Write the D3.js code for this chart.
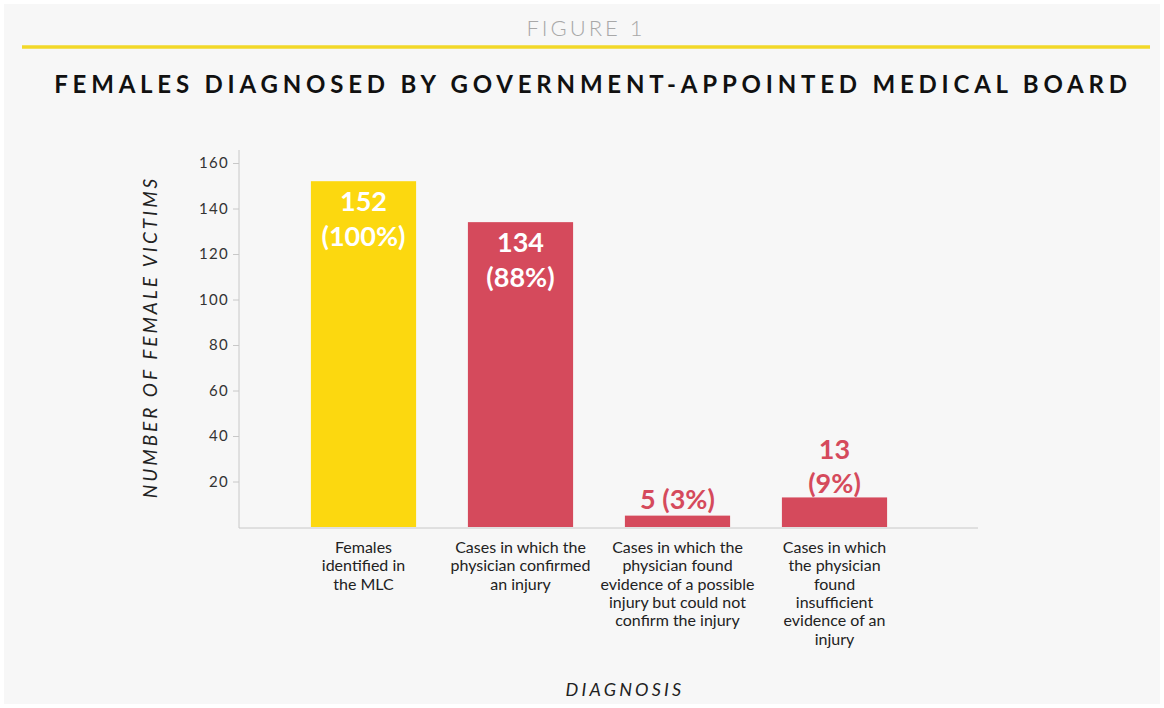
<!DOCTYPE html>
<html><head><meta charset="utf-8">
<script src="https://cdn.jsdelivr.net/npm/d3@7"></script>
<style>
html,body{margin:0;padding:0;background:#fff;}
svg{display:block;}
text{font-family:Lato,"Open Sans",sans-serif;}
</style></head>
<body>
<svg id="chart" width="1164" height="708"></svg>
<script>
const categories = ["Females identified in the MLC","Cases in which the physician confirmed an injury","Cases in which the physician found evidence of a possible injury but could not confirm the injury","Cases in which the physician found insufficient evidence of an injury"];
const categoryLines = [
  ["Females","identified in","the MLC"],
  ["Cases in which the","physician confirmed","an injury"],
  ["Cases in which the","physician found","evidence of a possible","injury but could not","confirm the injury"],
  ["Cases in which","the physician","found","insufficient","evidence of an","injury"]
];
const values = [152, 134, 5, 13];
const percents = ["100%", "88%", "3%", "9%"];
const yTicks = [20, 40, 60, 80, 100, 120, 140, 160];

const W = 1164, H = 708;
const svg = d3.select("#chart");
svg.append("rect").attr("x",4).attr("y",4).attr("width",W-8).attr("height",H-8).attr("fill","#f7f7f7");

// header
svg.append("text").attr("x",586).attr("y",36).attr("text-anchor","middle")
  .attr("font-size",22).attr("font-weight",300).attr("letter-spacing",3).attr("fill","#a8a8a8").text("FIGURE 1");
svg.append("line").attr("x1",22).attr("x2",1150).attr("y1",47).attr("y2",47)
  .attr("stroke","#f2d829").attr("stroke-width",3.5);
svg.append("text").attr("x",593).attr("y",93).attr("text-anchor","middle")
  .attr("font-size",24).attr("font-weight",700).attr("letter-spacing",4.8).attr("fill","#111")
  .text("FEMALES DIAGNOSED BY GOVERNMENT-APPOINTED MEDICAL BOARD");

const y = d3.scaleLinear().domain([0,160]).range([527,163]);
const x = d3.scaleBand().domain(categories).range([285,913]).paddingInner(0.33).paddingOuter(0.165);

// axes
const axisColor = "#c8c8c8";
svg.append("line").attr("x1",239).attr("x2",239).attr("y1",150).attr("y2",528).attr("stroke",axisColor);
svg.append("line").attr("x1",239).attr("x2",978).attr("y1",528).attr("y2",528).attr("stroke",axisColor);

const yAxis = d3.axisLeft(y).tickValues(yTicks).tickSize(6).tickPadding(4);
const gy = svg.append("g").attr("transform","translate(239,0)").call(yAxis);
gy.select(".domain").remove();
gy.selectAll(".tick line").attr("stroke",axisColor);
gy.selectAll(".tick text").attr("font-family","Lato, sans-serif").attr("font-size",15)
  .attr("letter-spacing",1.3).attr("fill","#333");

const colors = ["#fcd80f","#d54a5c","#d54a5c","#d54a5c"];

svg.append("g").selectAll("rect").data(categories).join("rect")
  .attr("x",d=>x(d)).attr("width",x.bandwidth())
  .attr("y",(d,i)=>y(values[i])).attr("height",(d,i)=>y(0)-y(values[i]))
  .attr("fill",(d,i)=>colors[i]);

// value labels
const vfs = 27;
categories.forEach((c,i)=>{
  const cx = x(c)+x.bandwidth()/2;
  const top = y(values[i]);
  const g = svg.append("g");
  if (i < 2) {
    g.append("text").attr("x",cx).attr("y",top+30).attr("text-anchor","middle").attr("font-size",vfs)
      .attr("font-weight",700).attr("fill","#fff").text(values[i]);
    g.append("text").attr("x",cx).attr("y",top+65).attr("text-anchor","middle").attr("font-size",vfs)
      .attr("font-weight",700).attr("fill","#fff").text("(" + percents[i] + ")");
  } else if (i === 2) {
    g.append("text").attr("x",cx).attr("y",top-7).attr("text-anchor","middle").attr("font-size",vfs)
      .attr("font-weight",700).attr("fill","#d54a5c").text(values[i] + " (" + percents[i] + ")");
  } else {
    g.append("text").attr("x",cx).attr("y",top-38).attr("text-anchor","middle").attr("font-size",vfs)
      .attr("font-weight",700).attr("fill","#d54a5c").text(values[i]);
    g.append("text").attr("x",cx).attr("y",top-4).attr("text-anchor","middle").attr("font-size",vfs)
      .attr("font-weight",700).attr("fill","#d54a5c").text("(" + percents[i] + ")");
  }
  // category labels
  const t = svg.append("text").attr("text-anchor","middle").attr("font-size",16).attr("fill","#222");
  categoryLines[i].forEach((ln,j)=>{
    t.append("tspan").attr("x",cx).attr("y",553+j*18.3).text(ln);
  });
});

// axis titles
svg.append("text").attr("transform","translate(157,337) rotate(-90)").attr("text-anchor","middle")
  .attr("font-size",19).attr("font-style","italic").attr("letter-spacing",3).attr("fill","#222")
  .text("NUMBER OF FEMALE VICTIMS");
svg.append("text").attr("x",625).attr("y",696).attr("text-anchor","middle")
  .attr("font-size",18).attr("font-style","italic").attr("letter-spacing",3.2).attr("fill","#222")
  .text("DIAGNOSIS");
</script>
</body></html>
